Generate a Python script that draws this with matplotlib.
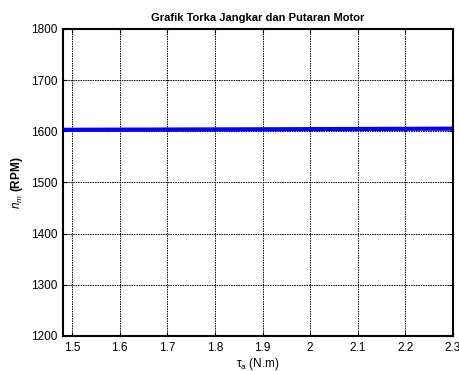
import numpy as np
import matplotlib
matplotlib.use("Agg")
import matplotlib.pyplot as plt

plt.rcParams['font.family'] = ['Liberation Sans', 'DejaVu Sans']
plt.rcParams['mathtext.fontset'] = 'custom'
plt.rcParams['mathtext.it'] = 'Liberation Sans:italic'
plt.rcParams['mathtext.rm'] = 'Liberation Sans'

# torka jangkar (N.m) dan putaran motor (RPM)
torka = [1.481, 1.6, 1.7, 1.8, 1.9, 2.0, 2.1, 2.2, 2.3]
putaran = [1603.0, 1603.3, 1603.5, 1603.8, 1604.0, 1604.3, 1604.6, 1604.9, 1605.2]
xticks = [1.5, 1.6, 1.7, 1.8, 1.9, 2.0, 2.1, 2.2, 2.3]
xticklabels = ['1.5', '1.6', '1.7', '1.8', '1.9', '2', '2.1', '2.2', '2.3']
yticks = [1200, 1300, 1400, 1500, 1600, 1700, 1800]

fig = plt.figure(figsize=(4.6, 3.71), dpi=100)
ax = fig.add_axes([63/460, 1 - 336/371, 390/460, 307/371])

ax.plot(torka, putaran, color='#0000ff', linewidth=3.0)

ax.set_xlim(1.481, 2.3)
ax.set_ylim(1200, 1800)
ax.set_xticks(xticks)
ax.set_xticklabels(xticklabels)
ax.set_yticks(yticks)
ax.tick_params(direction='in', length=3, labelsize=8.5, colors='black', pad=4,
               top=True, right=True)
ax.grid(True, color='black', linestyle=(0, (1.5, 1)), linewidth=0.7)
for s in ax.spines.values():
    s.set_linewidth(1.5)

ax.set_title('Grafik Torka Jangkar dan Putaran Motor', fontsize=8, fontweight='bold', pad=6)
ax.set_xlabel(r'$\mathregular{\tau_a}$ (N.m)', fontsize=8.5, labelpad=2)
ax.set_ylabel(r'$n_m$ (RPM)', fontsize=8.5, fontweight='bold', labelpad=4)

fig.savefig('out.png', dpi=100)
